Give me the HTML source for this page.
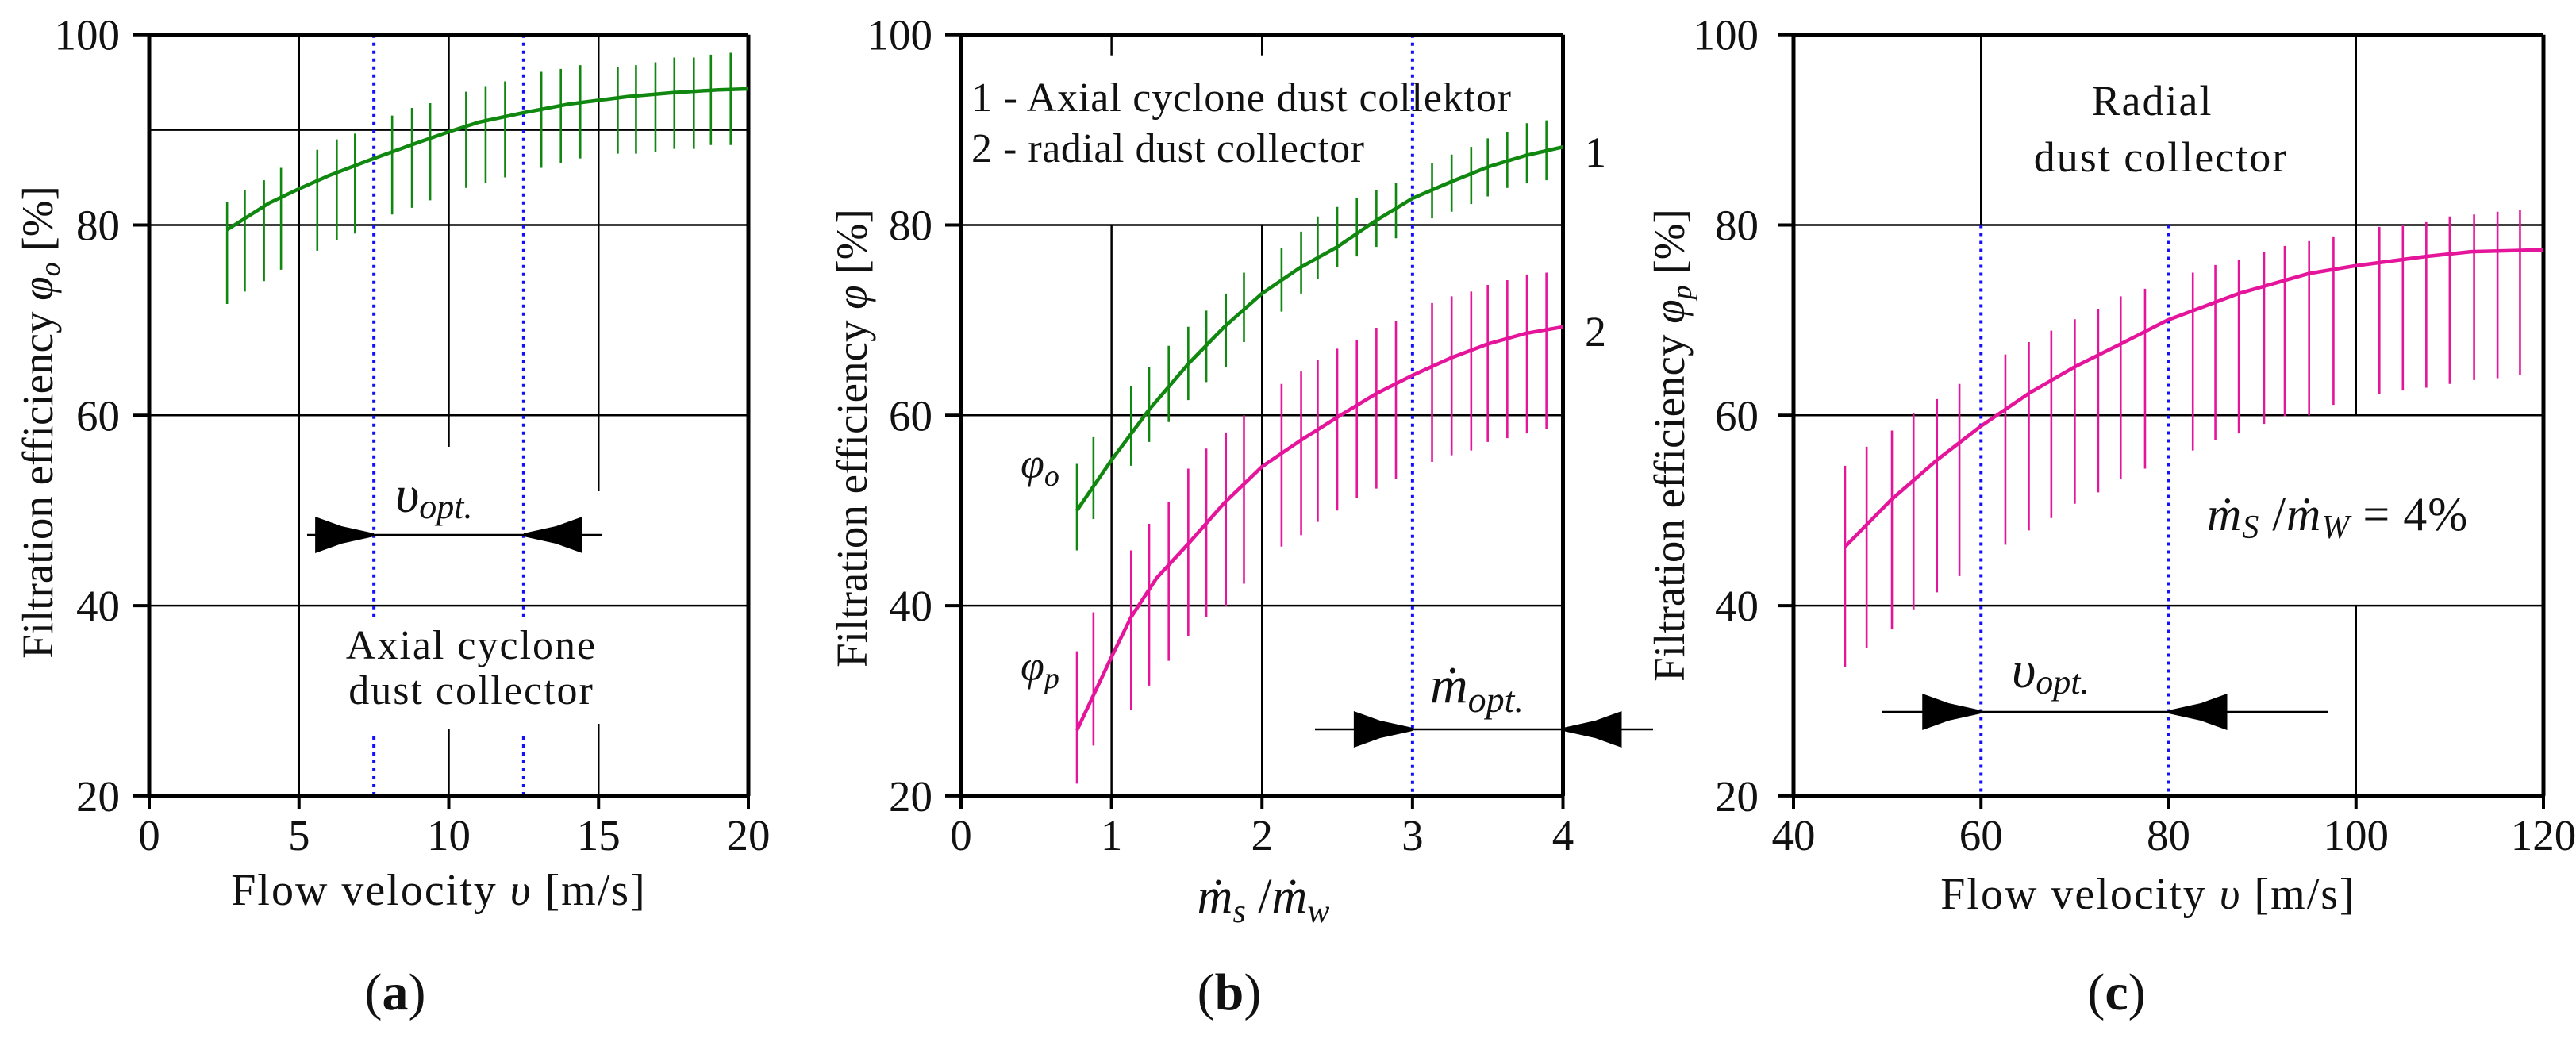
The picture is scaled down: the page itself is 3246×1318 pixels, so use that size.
<!DOCTYPE html>
<html><head><meta charset="utf-8">
<style>
html,body{margin:0;padding:0;background:#fff;}
svg{display:block;}
text{font-family:"Liberation Serif",serif;fill:#111;}
</style></head>
<body>
<svg id="fig" width="3246" height="1318" viewBox="0 0 3246 1318" xmlns="http://www.w3.org/2000/svg"></svg>
<script>
// ---------- Panel (a) data ----------
const aCurveX = [2.6,4,5,6,7.5,9,10,11,12.5,14,15,16,17.5,19,20];
const aCurveY = [79.5,82.3,83.8,85.2,87,88.7,89.8,90.8,91.8,92.7,93.1,93.5,93.9,94.2,94.3];
const aBarX  = [2.6,3.19,3.83,4.4,5.61,6.26,6.87,8.11,8.77,9.38,10.58,11.23,11.88,13.09,13.74,14.39,15.64,16.25,16.9,17.53,18.18,18.75,19.41];
const aBarHi = [82.4,83.7,84.7,86.0,87.9,89.0,89.6,91.5,92.3,92.8,94.0,94.6,95.1,96.1,96.4,96.8,96.6,96.8,97.1,97.6,97.6,97.9,98.1];
const aBarLo = [71.7,73.0,74.1,75.3,77.3,78.4,79.1,81.1,81.8,82.6,83.9,84.4,85.0,86.0,86.5,87.0,87.5,87.5,87.7,88.0,88.0,88.4,88.4];
const aXTicks = [0,5,10,15,20];
const yTicks = [20,40,60,80,100];
// ---------- Panel (b) data ----------
const bGreenX = [0.77,1.0,1.25,1.51,1.75,2.0,2.25,2.5,2.75,3.0,3.25,3.5,3.75,4.0];
const bGreenY = [50.0,55.3,60.6,65.4,69.3,72.8,75.5,77.7,80.4,82.8,84.5,86.1,87.3,88.2];
const bPinkX = [0.77,1.0,1.13,1.3,1.51,1.75,2.0,2.25,2.5,2.75,3.0,3.25,3.5,3.75,4.0];
const bPinkY = [26.9,34.6,38.8,42.9,46.5,50.8,54.6,57.3,59.8,62.2,64.2,66.0,67.5,68.6,69.3];
const bBarX = [0.77,0.88,1.13,1.25,1.38,1.51,1.63,1.76,1.88,2.13,2.26,2.37,2.5,2.63,2.76,2.89,3.13,3.26,3.39,3.5,3.63,3.76,3.89];
const bGreenHi = [54.9,57.7,63.1,65.1,67.3,69.3,71.0,72.8,75.0,77.6,79.3,80.9,81.9,82.8,83.7,84.4,86.5,87.4,88.2,89.1,89.8,90.7,91.0];
const bGreenLo = [45.8,49.1,54.7,57.2,59.3,61.6,63.5,65.1,67.7,70.9,72.8,74.3,75.6,76.7,77.7,78.6,80.7,81.4,82.2,83.0,83.9,84.4,84.7];
const bPinkHi = [35.2,39.3,45.8,48.6,50.9,54.4,56.5,58.2,60.0,63.3,64.6,65.8,67.0,67.9,69.2,69.9,71.8,72.5,73.0,73.7,74.2,74.8,75.0];
const bPinkLo = [21.3,25.3,29.0,31.6,34.2,36.8,38.8,40.0,42.3,46.2,47.4,48.8,50.0,51.3,52.3,53.3,55.1,55.8,56.3,57.2,57.6,58.1,58.6];
const bXTicks = [0,1,2,3,4];
// ---------- Panel (c) data ----------
const cCurveX = [45.5,50.4,55.3,59.9,65.1,70.0,74.9,79.9,87.5,95.0,99.8,107.5,112.3,120];
const cCurveY = [46.2,51.1,55.3,58.8,62.3,65.1,67.5,70.0,72.8,74.9,75.7,76.7,77.2,77.4];
const cBarX = [45.5,47.8,50.5,52.8,55.3,57.7,62.6,65.1,67.5,70.0,72.5,74.9,77.5,82.6,85.0,87.5,90.2,92.4,95.0,97.6,102.5,105.0,107.5,110.0,112.6,115.1,117.5];
const cBarHi = [54.7,56.7,58.4,60.2,61.7,63.3,66.4,67.7,68.9,70.1,71.2,72.5,73.3,75.0,75.8,76.3,77.2,77.8,78.3,78.8,79.8,80.0,80.3,80.9,81.1,81.4,81.6];
const cBarLo = [33.5,35.5,37.5,39.6,41.4,43.1,46.4,47.9,49.2,50.7,51.9,53.3,54.4,56.3,57.4,58.1,59.1,59.9,60.0,61.1,62.2,62.6,62.9,63.3,63.7,63.9,64.2];
const cXTicks = [40,60,80,100,120];

const NS = "http://www.w3.org/2000/svg";
const svg = document.getElementById('fig');
const GREEN = "#10870f", PINK = "#e5159b", BLUE = "#1010ff";
function mk(tag, attrs, parent){
  const e = document.createElementNS(NS, tag);
  for (const k in attrs) e.setAttribute(k, attrs[k]);
  (parent||svg).appendChild(e);
  return e;
}
const Y = v => 43.7 + (100 - v) * 11.99;
const Xa = v => 188 + v * (943 - 188) / 20;
const Xb = v => 1211 + v * (1969.5 - 1211) / 4;
const Xc = v => 2260 + (v - 40) * (3205 - 2260) / 80;

function line(x1,y1,x2,y2,w,col,name,dash){
  const l = mk('line',{x1:x1,y1:y1,x2:x2,y2:y2,stroke:col||'#000','stroke-width':w});
  if (dash) l.setAttribute('stroke-dasharray', dash);
  
  
  return l;
}
function txt(x,y,s,size,anchor,name,extra){
  const t = mk('text',{x:x,y:y,'font-size':size,'text-anchor':anchor||'middle'});
  if (extra) for (const k in extra) t.setAttribute(k, extra[k]);
  t.innerHTML = s;
  
  
  return t;
}
function axes(X, x0, x1, xt, p, ylabRight){
  line(x0, Y(100), x1, Y(100), 5, '#000', p+'-top-border');
  line(x1, Y(100), x1, Y(20), 5, '#000', p+'-right-border');
  line(x0, Y(100)-2, x0, Y(20)+2, 5, '#000', p+'-y-axis');
  line(x0-2, Y(20), x1+2, Y(20), 5, '#000', p+'-x-axis');
  yTicks.forEach(v => {
    line(x0-20, Y(v), x0, Y(v), 4, '#000', p+'-y-tick');
    txt(ylabRight, Y(v)+19, v, 55, 'end', p+'-y-tick-label');
  });
  xt.forEach(v => {
    line(X(v), Y(20), X(v), Y(20)+17, 4, '#000', p+'-x-tick');
    txt(X(v), Y(20)+68, v, 55, 'middle', p+'-x-tick-label');
  });
}
function curve(X, xs, ys, col, name){
  let d = '';
  xs.forEach((v,i) => { d += (i? 'L':'M') + X(v).toFixed(1) + ' ' + Y(ys[i]).toFixed(1); });
  const p = mk('path',{d:d,fill:'none',stroke:col,'stroke-width':4.5,'stroke-linejoin':'round'});
  
  
}
function bars(X, xs, hi, lo, col, name){
  xs.forEach((v,i) => {
    const l = mk('line',{x1:X(v),x2:X(v),y1:Y(hi[i]),y2:Y(lo[i]),stroke:col,'stroke-width':2.6});
    
    
  });
}
function arrowHead(tipX, y, dir, name){
  const L = 74, H = 23;
  const bx = tipX - dir*L;
  const pts = [[bx, y-H],[bx + dir*L*0.45, y-11],[tipX, y-2],[tipX, y+2],[bx + dir*L*0.45, y+11],[bx, y+H]];
  const p = mk('polygon',{points: pts.map(q=>q.join(',')).join(' '), fill:'#000'});
  
  
}
const DOT = "4 6";

// ================= Panel (a) =================
line(Xa(0), Y(90), Xa(20), Y(90), 2.5, '#000', 'a-grid-90');
[80,60,40].forEach(v => line(Xa(0), Y(v), Xa(20), Y(v), 2.5, '#000', 'a-grid-h'));
line(Xa(5), Y(100), Xa(5), Y(20), 2.5, '#000', 'a-grid-5');
line(Xa(10), Y(100), Xa(10), 563, 2.5, '#000', 'a-grid-10-top');
line(Xa(10), 919, Xa(10), Y(20), 2.5, '#000', 'a-grid-10-bottom');
line(Xa(15), Y(100), Xa(15), 619, 2.5, '#000', 'a-grid-15-top');
line(Xa(15), 912, Xa(15), Y(20), 2.5, '#000', 'a-grid-15-bottom');
[7.5,12.5].forEach(v => {
  line(Xa(v), Y(100), Xa(v), 777, 4, BLUE, 'a-optimum-bound', DOT);
  line(Xa(v), 928, Xa(v), Y(20), 4, BLUE, 'a-optimum-bound', DOT);
});
axes(Xa, 188, 943, aXTicks, 'a', 151);
bars(Xa, aBarX, aBarHi, aBarLo, GREEN, 'a-error-bar');
curve(Xa, aCurveX, aCurveY, GREEN, 'a-efficiency-curve');
line(387, 674, 758, 674, 2.5, '#000', 'a-optimum-arrow-line');
arrowHead(Xa(7.5), 674, 1, 'a-arrow-left');
arrowHead(Xa(12.5), 674, -1, 'a-arrow-right');
txt(498, 645, '<tspan font-style="italic" font-size="66">υ</tspan><tspan font-style="italic" font-size="44" dy="8">opt.</tspan>', 66, 'start', 'a-v-opt-label');
txt(594, 830, 'Axial cyclone', 52, 'middle', 'a-annotation-line1', {'letter-spacing':'2'});
txt(594, 887, 'dust collector', 52, 'middle', 'a-annotation-line2', {'letter-spacing':'2'});
txt(553, 1140, 'Flow velocity <tspan font-style="italic">υ</tspan> [m/s]', 56, 'middle', 'a-x-axis-title', {'letter-spacing':'2'});
txt(0, 0, 'Filtration efficiency <tspan font-style="italic">φ</tspan><tspan font-style="italic" font-size="36" dy="9">o</tspan><tspan dy="-9"> [%]</tspan>', 55, 'middle', 'a-y-axis-title', {transform:'translate(66,532) rotate(-90)'});
txt(498, 1272, '(<tspan font-weight="bold">a</tspan>)', 66, 'middle', 'a-panel-label');

// ================= Panel (b) =================
[80,60,40].forEach(v => line(Xb(0), Y(v), Xb(4), Y(v), 2.5, '#000', 'b-grid-h'));
[1,2].forEach(v => {
  line(Xb(v), Y(80), Xb(v), Y(20), 2.5, '#000', 'b-grid-v');
  line(Xb(v), Y(100), Xb(v), Y(100)+26, 2.5, '#000', 'b-top-tick');
});
line(Xb(3), Y(100), Xb(3), Y(20), 4, BLUE, 'b-optimum-line', DOT);
axes(Xb, 1211, 1969.5, bXTicks, 'b', 1175);
bars(Xb, bBarX, bGreenHi, bGreenLo, GREEN, 'b-axial-error-bar');
bars(Xb, bBarX, bPinkHi, bPinkLo, PINK, 'b-radial-error-bar');
curve(Xb, bGreenX, bGreenY, GREEN, 'b-axial-curve');
curve(Xb, bPinkX, bPinkY, PINK, 'b-radial-curve');
txt(1224, 140, '1 - Axial cyclone dust collektor', 52, 'start', 'b-legend-entry-1', {textLength:'680'});
txt(1224, 204, '2 - radial dust collector', 52, 'start', 'b-legend-entry-2', {textLength:'495'});
txt(1997, 210, '1', 54, 'start', 'b-curve-label-1');
txt(1997, 436, '2', 54, 'start', 'b-curve-label-2');
txt(1286, 602, '<tspan font-style="italic">φ</tspan><tspan font-style="italic" font-size="38" dy="10">o</tspan>', 54, 'start', 'b-phi-o-label');
txt(1286, 857, '<tspan font-style="italic">φ</tspan><tspan font-style="italic" font-size="38" dy="10">p</tspan>', 54, 'start', 'b-phi-p-label');
line(1657, 919, 2083, 919, 2.5, '#000', 'b-optimum-arrow-line');
arrowHead(Xb(3), 919, 1, 'b-arrow-left');
arrowHead(Xb(4), 919, -1, 'b-arrow-right');
txt(1802, 885, '<tspan font-style="italic" font-size="66">ṁ</tspan><tspan font-style="italic" font-size="46" dy="12">opt.</tspan>', 66, 'start', 'b-m-opt-label');
txt(1592, 1150, '<tspan font-style="italic">ṁ</tspan><tspan font-style="italic" font-size="42" dy="12">s</tspan><tspan dy="-12"> /</tspan><tspan font-style="italic">ṁ</tspan><tspan font-style="italic" font-size="42" dy="12">w</tspan>', 62, 'middle', 'b-x-axis-title');
txt(0, 0, 'Filtration efficiency <tspan font-style="italic">φ</tspan> [%]', 55, 'middle', 'b-y-axis-title', {transform:'translate(1092,552) rotate(-90)'});
txt(1549, 1272, '(<tspan font-weight="bold">b</tspan>)', 66, 'middle', 'b-panel-label');

// ================= Panel (c) =================
[80,60,40].forEach(v => line(Xc(40), Y(v), Xc(120), Y(v), 2.5, '#000', 'c-grid-h'));
line(Xc(60), Y(100), Xc(60), Y(80), 2.5, '#000', 'c-grid-60');
line(Xc(100), Y(100), Xc(100), Y(60), 2.5, '#000', 'c-grid-100-top');
line(Xc(100), Y(40), Xc(100), Y(20), 2.5, '#000', 'c-grid-100-bottom');
[60,80].forEach(v => line(Xc(v), Y(80), Xc(v), Y(20), 4, BLUE, 'c-optimum-bound', DOT));
axes(Xc, 2260, 3205, cXTicks, 'c', 2216);
bars(Xc, cBarX, cBarHi, cBarLo, PINK, 'c-error-bar');
curve(Xc, cCurveX, cCurveY, PINK, 'c-efficiency-curve');
txt(2712, 145, 'Radial', 54, 'middle', 'c-annotation-line1', {'letter-spacing':'2'});
txt(2723, 216, 'dust collector', 54, 'middle', 'c-annotation-line2', {'letter-spacing':'2'});
txt(2781, 668, '<tspan font-style="italic">ṁ</tspan><tspan font-style="italic" font-size="42" dy="10">S</tspan><tspan dy="-10"> /</tspan><tspan font-style="italic">ṁ</tspan><tspan font-style="italic" font-size="42" dy="10">W</tspan><tspan dy="-10"> = 4%</tspan>', 60, 'start', 'c-ratio-annotation', {'letter-spacing':'1'});
line(2372, 897, 2933, 897, 2.5, '#000', 'c-optimum-arrow-line');
arrowHead(Xc(60), 897, 1, 'c-arrow-left');
arrowHead(Xc(80), 897, -1, 'c-arrow-right');
txt(2535, 866, '<tspan font-style="italic" font-size="66">υ</tspan><tspan font-style="italic" font-size="44" dy="8">opt.</tspan>', 66, 'start', 'c-v-opt-label');
txt(2707, 1145, 'Flow velocity <tspan font-style="italic">υ</tspan> [m/s]', 56, 'middle', 'c-x-axis-title', {'letter-spacing':'2'});
txt(0, 0, 'Filtration efficiency <tspan font-style="italic">φ</tspan><tspan font-style="italic" font-size="36" dy="9">p</tspan><tspan dy="-9"> [%]</tspan>', 55, 'middle', 'c-y-axis-title', {transform:'translate(2122,561) rotate(-90)'});
txt(2667, 1272, '(<tspan font-weight="bold">c</tspan>)', 66, 'middle', 'c-panel-label');
</script>
</body></html>
